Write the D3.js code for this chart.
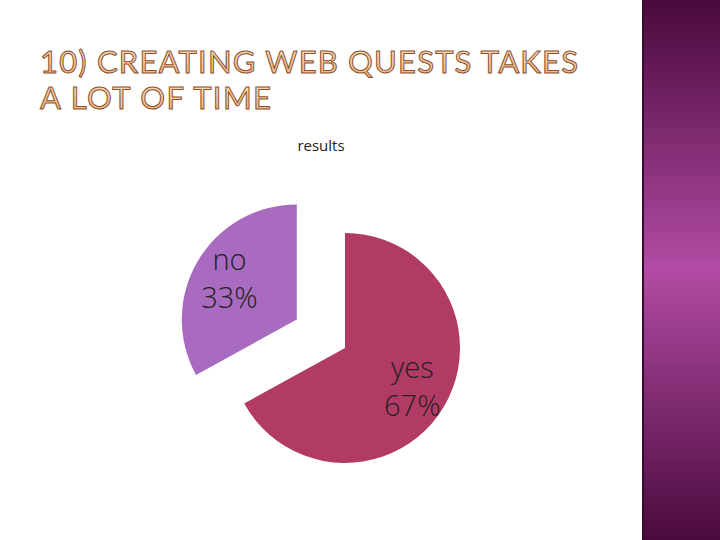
<!DOCTYPE html>
<html><head><meta charset="utf-8">
<script src="https://cdn.jsdelivr.net/npm/d3@7.9.0/dist/d3.min.js"></script>
<style>body{margin:0;background:#fff}svg{display:block}</style>
</head><body>
<svg id="chart" width="720" height="540"></svg>
<script>
const labels = ['yes', 'no'];
const values = [67, 33];
const colors = ['#b23b66', '#a86bbf'];
const titleLines = ['10) CREATING WEB QUESTS TAKES', 'A LOT OF TIME'];

const svg = d3.select('#chart');
const defs = svg.append('defs');

// purple side band
const band = defs.append('linearGradient').attr('id', 'band').attr('x1', 0).attr('x2', 0).attr('y1', 0).attr('y2', 1);
band.append('stop').attr('offset', '0%').attr('stop-color', '#4a0a3c');
band.append('stop').attr('offset', '50%').attr('stop-color', '#b24ba4');
band.append('stop').attr('offset', '100%').attr('stop-color', '#4a0a3c');
svg.append('rect').attr('x', 642).attr('y', 0).attr('width', 78).attr('height', 540).attr('fill', 'url(#band)');
svg.append('rect').attr('x', 642).attr('y', 0).attr('width', 2).attr('height', 540).attr('fill', '#3a0a30');

// title
const tg = defs.append('linearGradient').attr('id', 'tg').attr('x1', 0).attr('x2', 0).attr('y1', 0).attr('y2', 1);
tg.append('stop').attr('offset', '0%').attr('stop-color', '#fde7c8');
tg.append('stop').attr('offset', '100%').attr('stop-color', '#f0b070');
svg.selectAll('text.title').data(titleLines).join('text')
  .attr('class', 'title')
  .attr('x', 40).attr('y', (d, i) => 73 + i * 36)
  .attr('textLength', (d, i) => i === 0 ? 538 : 231)
  .attr('lengthAdjust', 'spacing')
  .attr('font-family', 'Lato, sans-serif').attr('font-size', 31)
  .attr('fill', 'url(#tg)').attr('stroke', '#8a5030').attr('stroke-width', 1)
  .text(d => d);

svg.append('text').attr('x', 321).attr('y', 151).attr('text-anchor', 'middle')
  .attr('font-family', 'Open Sans, sans-serif').attr('font-size', 15).attr('fill', '#222')
  .text('results');

// pie
const r = 115, cx = 345, cy = 348, explode = 56;
const pie = d3.pie().sort(null).value(d => d)(values);
const arc = d3.arc().innerRadius(0).outerRadius(r);
const g = svg.append('g').attr('transform', `translate(${cx},${cy})`);
const off = (d, i) => {
  if (i !== 1) return [0, 0];
  const a = (d.startAngle + d.endAngle) / 2;
  return [Math.sin(a) * explode, -Math.cos(a) * explode];
};
g.selectAll('path').data(pie).join('path')
  .attr('d', arc).attr('fill', (d, i) => colors[i])
  .attr('transform', (d, i) => `translate(${off(d, i)})`);

const lab = g.selectAll('g.lab').data(pie).join('g').attr('class', 'lab')
  .attr('transform', (d, i) => {
    const [ox, oy] = off(d, i);
    const c = d3.arc().innerRadius(r * 0.68).outerRadius(r * 0.68).centroid(d);
    return `translate(${c[0] + ox},${c[1] + oy})`;
  });
lab.append('text').attr('text-anchor', 'middle').attr('y', -10)
  .attr('font-family', 'Open Sans, sans-serif').attr('font-size', 29).attr('font-weight', 300).attr('fill', '#222')
  .text((d, i) => labels[i]);
lab.append('text').attr('text-anchor', 'middle').attr('y', 28)
  .attr('font-family', 'Open Sans, sans-serif').attr('font-size', 29).attr('font-weight', 300).attr('fill', '#222')
  .text((d, i) => values[i] + '%');
</script>
</body></html>
